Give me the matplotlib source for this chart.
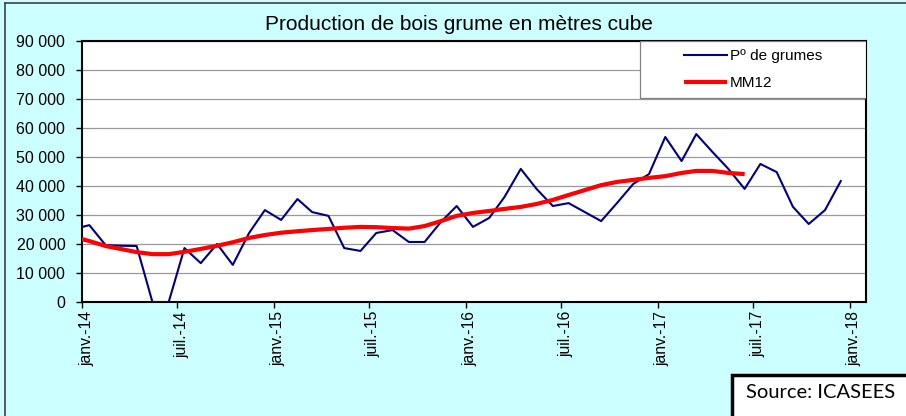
import numpy as np
import pandas as pd
import matplotlib
matplotlib.use('Agg')
import matplotlib.pyplot as plt
import matplotlib.patches as mpatches
import matplotlib.lines as mlines
import matplotlib.transforms as mtransforms

plt.rcParams['font.family'] = ['Liberation Sans', 'DejaVu Sans']

# Monthly log production (mid-month dates, dec. 2013 -> dec. 2017)
dates = pd.date_range('2013-12-01', periods=49, freq='MS') + pd.Timedelta(days=14)
production = [25100, 26500, 19600, 19400, 19300, 0, 0, 18600, 13400, 20000,
              12800, 23800, 31700, 28300, 35500, 31000, 29700, 18600, 17600, 23800,
              24800, 20700, 20700, 27600, 33100, 25900, 29000, 36200, 45900, 39000,
              33100, 34100, 31000, 27900, 34100, 40700, 44100, 56900, 48600, 57900,
              51700, 45900, 39000, 47600, 44800, 32800, 26900, 31700, 41700]

# 12-month moving average (stops in june 2017)
mm12 = [22500, 21000, 19300, 18300, 17200, 16500, 16500, 17300, 18300, 19400,
        20600, 22100, 23100, 23900, 24400, 24800, 25200, 25600, 25900, 25800,
        25500, 25300, 26200, 27900, 29700, 30700, 31400, 32100, 32800, 33800,
        35200, 36900, 38600, 40300, 41400, 42100, 42800, 43400, 44500, 45200,
        45200, 44500, 44100]

tick_dates = pd.date_range('2014-01-01', '2018-01-01', freq='6MS')
tick_labels = ['janv.-14', 'juil.-14', 'janv.-15', 'juil.-15', 'janv.-16',
               'juil.-16', 'janv.-17', 'juil.-17', 'janv.-18']
y_ticks = [0, 10000, 20000, 30000, 40000, 50000, 60000, 70000, 80000, 90000]
y_labels = ['0', '10 000', '20 000', '30 000', '40 000', '50 000',
            '60 000', '70 000', '80 000', '90 000']

bg = '#CCFFFF'
fig = plt.figure(figsize=(9.06, 4.16), dpi=100, facecolor=bg)
ax = fig.add_axes([82 / 906, 1 - 302 / 416, (866 - 82) / 906, 261 / 416])
ax.set_facecolor('white')

ax.plot(dates, production, color='#000080', lw=1.5, label='Pº de grumes', zorder=3)
ax.plot(dates[:len(mm12)], mm12, color='#FF0000', lw=3.0, label='MM12',
        solid_capstyle='butt', zorder=4)

ax.set_xlim(pd.Timestamp('2014-01-01'), pd.Timestamp('2018-02-01'))
ax.set_ylim(0, 90000)
ax.set_yticks(y_ticks)
ax.set_yticklabels(y_labels, fontsize=11.5)
ax.set_xticks(tick_dates)
ax.set_xticklabels(tick_labels, rotation=90, fontsize=11.3, va='top', ha='center')
ax.tick_params(axis='both', direction='out', length=4, width=1, color='black')
ax.tick_params(axis='y', pad=8)
ax.tick_params(axis='x', pad=2.5)

# Excel puts the rotated labels a bit right of the tick
offset = mtransforms.ScaledTranslation(0.045, 0, fig.dpi_scale_trans)
for lab in ax.get_xticklabels():
    lab.set_transform(lab.get_transform() + offset)

ax.grid(axis='y', color='#999999', lw=0.9)
ax.set_axisbelow(True)
for sp in ax.spines.values():
    sp.set_color('black')
    sp.set_linewidth(1.5)

# legend box in the top right corner
x0 = (640 - 82) / (866 - 82)
y0 = (302 - 98) / 261
ax.add_patch(mpatches.Rectangle((x0, y0), 1 - x0, 1 - y0, transform=ax.transAxes,
                                facecolor='white', edgecolor='#808080', lw=0.9, zorder=5))
leg = ax.legend(loc='center', bbox_to_anchor=(x0, y0, 1 - x0, 1 - y0), frameon=False,
                fontsize=11, handlelength=2.8, handletextpad=0.2, labelspacing=0.85)
leg.set_zorder(6)

fig.text(0.507, 1 - 25 / 416, 'Production de bois grume en mètres cube',
         ha='center', va='center', fontsize=15)

# outer chart border (left and top only visible)
fig.add_artist(mlines.Line2D([4.5 / 906, 4.5 / 906], [0, 1 - 2.5 / 416],
                             transform=fig.transFigure, color='#404040', lw=1.2))
fig.add_artist(mlines.Line2D([4.5 / 906, 1], [1 - 2.5 / 416, 1 - 2.5 / 416],
                             transform=fig.transFigure, color='#404040', lw=1.2))

# source box
fig.add_artist(mpatches.Rectangle((731.5 / 906, -0.05), 0.3, (416 - 374.5) / 416 + 0.05,
                                  transform=fig.transFigure, facecolor='white',
                                  edgecolor='black', lw=2.5))
fig.text(746 / 906, 1 - 392 / 416, 'Source: ICASEES', ha='left', va='center',
         fontsize=14.5, family=['Lato', 'DejaVu Sans'])

fig.savefig('out.png', dpi=100, facecolor=bg)
